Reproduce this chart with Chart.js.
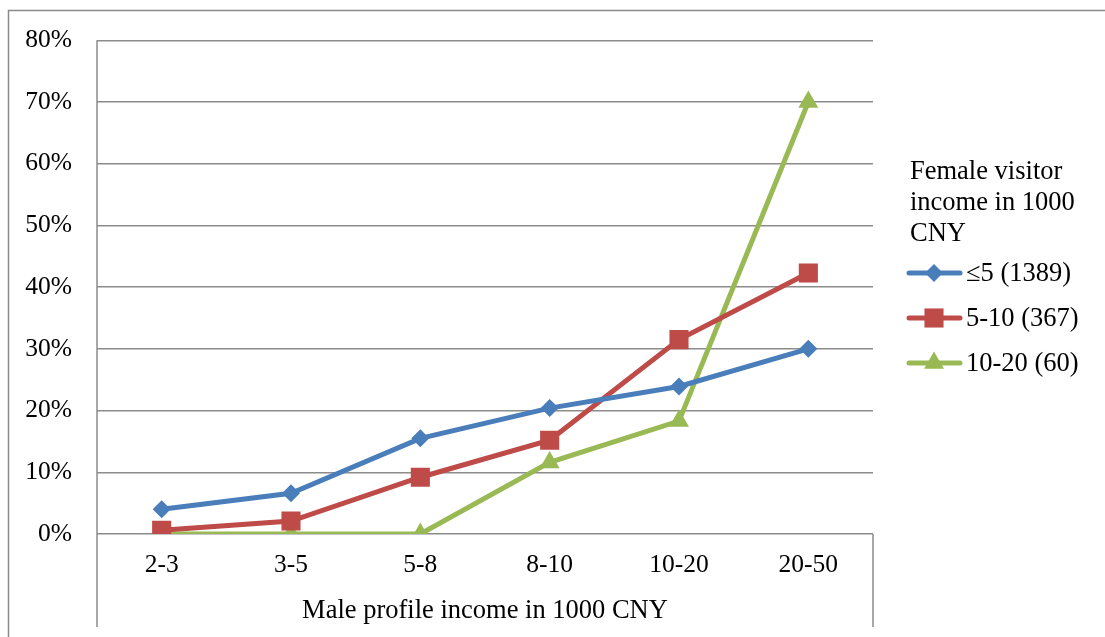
<!DOCTYPE html>
<html>
<head>
<meta charset="utf-8">
<title>Income match by visitor income</title>
<style>
  html, body { margin: 0; padding: 0; background: #fff; }
  #wrap { width: 1105px; height: 637px; position: relative; }
</style>
<script src="https://cdn.jsdelivr.net/npm/chart.js@4.4.0/dist/chart.umd.min.js"></script>
</head>
<body>
<div id="wrap"><canvas id="c" width="1105" height="637"></canvas></div>
<script>
// male profile income bands (x axis)
const incomeBands = ['2-3', '3-5', '5-8', '8-10', '10-20', '20-50'];

// share of visits (%) per female visitor income group
const upTo5 = [4.0, 6.6, 15.5, 20.4, 23.9, 30.0];
const from5to10 = [0.6, 2.1, 9.2, 15.2, 31.5, 42.3];
const from10to20 = [0, 0, 0, 11.6, 18.3, 70.0];

const seriesNames = ['\u22645 (1389)', '5-10 (367)', '10-20 (60)'];
const legendTitle = ['Female visitor', 'income in 1000', 'CNY'];
const xTitle = 'Male profile income in 1000 CNY';
const yMax = 80;
const yStep = 10;

const serif = '"Liberation Serif", "Times New Roman", serif';
const gridGray = '#8c8c8c';

// outer frame + the axis box lines that run down past the category labels
const framePlugin = {
  id: 'frame',
  beforeDraw(chart) {
    const ctx = chart.ctx;
    ctx.save();
    ctx.fillStyle = '#fff';
    ctx.fillRect(0, 0, chart.width, chart.height);
    ctx.strokeStyle = '#8a8a8a';
    ctx.lineWidth = 1.5;
    ctx.strokeRect(8.5, 10.5, chart.width + 20, chart.height + 20);
    ctx.restore();
  },
  afterDatasetsDraw(chart) {
    const ctx = chart.ctx;
    const a = chart.chartArea;
    ctx.save();
    ctx.strokeStyle = gridGray;
    ctx.lineWidth = 1.5;
    ctx.beginPath();
    ctx.moveTo(a.left, a.top);
    ctx.lineTo(a.left, 627);
    ctx.moveTo(a.right, a.bottom);
    ctx.lineTo(a.right, 627);
    ctx.stroke();
    ctx.restore();
  }
};

// legend on the right: title block, then line + marker samples
const sideLegend = {
  id: 'sideLegend',
  afterDraw(chart) {
    const ctx = chart.ctx;
    ctx.save();
    ctx.fillStyle = '#000';
    ctx.textBaseline = 'alphabetic';
    ctx.font = '26.5px ' + serif;
    legendTitle.forEach((t, i) => ctx.fillText(t, 910, 179 + i * 31));

    const rows = [273, 318, 363];
    chart.data.datasets.forEach((ds, i) => {
      const y = rows[i];
      ctx.strokeStyle = ds.borderColor;
      ctx.lineWidth = ds.borderWidth;
      ctx.lineCap = 'round';
      ctx.beginPath();
      ctx.moveTo(909, y);
      ctx.lineTo(960, y);
      ctx.stroke();
      ctx.fillStyle = ds.pointBackgroundColor;
      Chart.helpers.drawPoint(ctx, {
        pointStyle: ds.pointStyle,
        radius: ds.pointRadius,
        borderWidth: 0
      }, 934, y);
      ctx.fillStyle = '#000';
      ctx.fillText(seriesNames[i], 966, y + 8);
    });
    ctx.restore();
  }
};

function series(label, data, color, style, radius) {
  return {
    label: label,
    data: data,
    borderColor: color,
    backgroundColor: color,
    pointBackgroundColor: color,
    pointBorderColor: color,
    pointBorderWidth: 0,
    borderWidth: 5,
    pointStyle: style,
    pointRadius: radius,
    pointHoverRadius: radius,
    tension: 0
  };
}

new Chart(document.getElementById('c'), {
  type: 'line',
  data: {
    labels: incomeBands,
    datasets: [
      series(seriesNames[0], upTo5, '#4a7ebb', 'rectRot', 9),
      series(seriesNames[1], from5to10, '#be4b48', 'rect', 13.5),
      series(seriesNames[2], from10to20, '#98b954', 'triangle', 11.5)
    ]
  },
  options: {
    responsive: false,
    animation: false,
    events: [],
    layout: { padding: { left: 0, top: 39, right: 232, bottom: 0 } },
    plugins: {
      legend: { display: false },
      tooltip: { enabled: false }
    },
    scales: {
      x: {
        offset: true,
        grid: { display: false, drawTicks: false },
        border: { display: false },
        ticks: {
          color: '#000',
          font: { family: serif, size: 25.5 },
          padding: 16,
          maxRotation: 0
        },
        title: {
          display: true,
          text: xTitle,
          color: '#000',
          font: { family: serif, size: 26.5 },
          padding: { top: 0, bottom: 10 }
        },
        afterFit(scale) { scale.height = 103; }
      },
      y: {
        min: 0,
        max: yMax,
        grid: { color: gridGray, lineWidth: 1.5, drawTicks: false },
        border: { display: false },
        ticks: {
          stepSize: yStep,
          color: '#000',
          font: { family: serif, size: 25.5 },
          padding: 25,
          callback: v => v + '%'
        },
        afterFit(scale) { scale.width = 97; }
      }
    }
  },
  plugins: [framePlugin, sideLegend]
});
</script>
</body>
</html>
